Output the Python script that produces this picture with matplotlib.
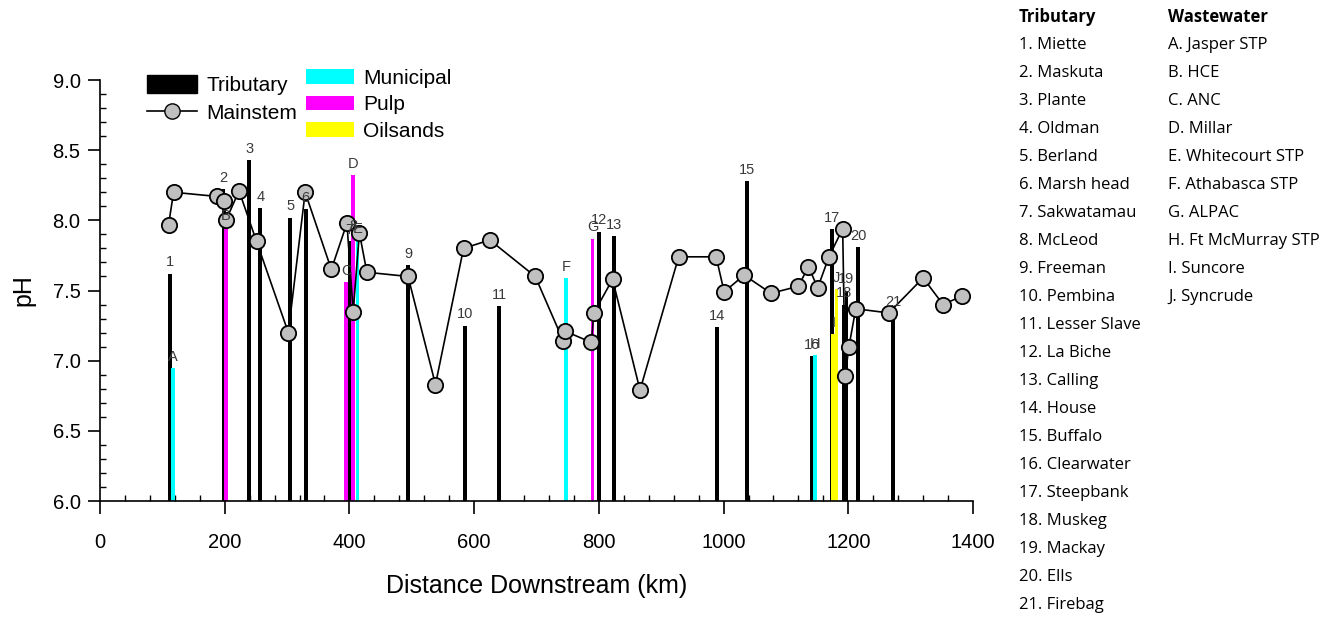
import matplotlib
matplotlib.use("Agg")
import matplotlib.pyplot as plt
from matplotlib.patches import Patch
from matplotlib.lines import Line2D
from matplotlib.ticker import MultipleLocator

plt.rcParams['font.family'] = ['Liberation Sans', 'DejaVu Sans']

# mainstem pH along the river (km downstream, pH)
main_km = [110, 118, 188, 199, 202, 223, 251, 302, 329, 371, 396, 406, 416, 428,
           494, 538, 583, 625, 698, 743, 746, 788, 792, 822, 866, 928, 988, 1001,
           1033, 1076, 1120, 1136, 1151, 1169, 1191, 1195, 1201, 1212, 1265, 1320,
           1352, 1382]
main_ph = [7.97, 8.20, 8.17, 8.14, 8.00, 8.21, 7.85, 7.20, 8.20, 7.65, 7.98, 7.35,
           7.91, 7.63, 7.60, 6.83, 7.80, 7.86, 7.60, 7.14, 7.21, 7.13, 7.34, 7.58,
           6.79, 7.74, 7.74, 7.49, 7.61, 7.48, 7.53, 7.67, 7.52, 7.74, 7.94, 6.89,
           7.10, 7.37, 7.34, 7.59, 7.40, 7.46]

# tributaries
trib_names = ['Miette', 'Maskuta', 'Plante', 'Oldman', 'Berland', 'Marsh head',
              'Sakwatamau', 'McLeod', 'Freeman', 'Pembina', 'Lesser Slave',
              'La Biche', 'Calling', 'House', 'Buffalo', 'Clearwater', 'Steepbank',
              'Muskeg', 'Mackay', 'Ells', 'Firebag']
trib_km = [112, 198, 239, 257, 305, 330, 400, 406, 494, 585, 640, 800, 824, 990,
           1037, 1142, 1174, 1193, 1197, 1216, 1272]
trib_ph = [7.62, 8.22, 8.43, 8.09, 8.02, 8.08, 7.85, 7.88, 7.68, 7.25, 7.39, 7.92,
           7.89, 7.24, 8.28, 7.03, 7.94, 7.40, 7.50, 7.81, 7.34]

# wastewater discharges
ww_names = ['Jasper STP', 'HCE', 'ANC', 'Millar', 'Whitecourt STP', 'Athabasca STP',
            'ALPAC', 'Ft McMurray STP', 'Suncore', 'Syncrude']
ww_letters = ['A', 'B', 'C', 'D', 'E', 'F', 'G', 'H', 'I', 'J']
ww_km = [117, 202, 395, 406, 413, 747, 790, 1147, 1176, 1181]
ww_ph = [6.95, 7.95, 7.56, 8.32, 7.86, 7.59, 7.87, 7.04, 7.19, 7.51]
ww_type = ['Municipal', 'Pulp', 'Pulp', 'Pulp', 'Municipal', 'Municipal', 'Pulp',
           'Municipal', 'Oilsands', 'Oilsands']

type_colors = {'Municipal': '#00ffff', 'Pulp': '#ff00ff', 'Oilsands': '#ffff00'}
label_color = '#3a3a3a'

fig = plt.figure(figsize=(13.43, 6.17), dpi=100)
ax = fig.add_axes([100 / 1343, 1 - 501 / 617, 873 / 1343, 421 / 617])

base = 6.0
ax.bar(trib_km, [p - base for p in trib_ph], bottom=base, width=6, color='black', zorder=2)
ax.bar(ww_km, [p - base for p in ww_ph], bottom=base, width=6,
       color=[type_colors[t] for t in ww_type], zorder=2)

for i, (k, p) in enumerate(zip(trib_km, trib_ph)):
    ax.annotate(str(i + 1), (k, p), xytext=(0, 3), textcoords='offset points',
                ha='center', va='bottom', fontsize=10.5, color=label_color, zorder=5)
for l, k, p in zip(ww_letters, ww_km, ww_ph):
    ax.annotate(l, (k, p), xytext=(0, 3), textcoords='offset points',
                ha='center', va='bottom', fontsize=10.5, color=label_color, zorder=5)

ax.plot(main_km, main_ph, color='black', lw=1.2, marker='o', ms=11,
        mfc='#c0c0c0', mec='black', mew=1.3, zorder=4)

ax.set_xlim(0, 1400)
ax.set_ylim(6.0, 9.0)
ax.xaxis.set_major_locator(MultipleLocator(200))
ax.xaxis.set_minor_locator(MultipleLocator(40))
ax.yaxis.set_major_locator(MultipleLocator(0.5))
ax.yaxis.set_minor_locator(MultipleLocator(0.1))
ax.yaxis.set_major_formatter(plt.FormatStrFormatter('%.1f'))
ax.tick_params(which='major', direction='out', length=9, width=1.2, labelsize=14.5)
ax.tick_params(axis='x', which='major', pad=14)
ax.tick_params(axis='y', which='major', pad=5)
ax.tick_params(which='minor', direction='in', length=4, width=1)
ax.spines['top'].set_visible(False)
ax.spines['right'].set_visible(False)
ax.spines['left'].set_linewidth(1.2)
ax.spines['bottom'].set_linewidth(1.2)
ax.set_xlabel('Distance Downstream (km)', fontsize=18, labelpad=16)
ax.set_ylabel('pH', fontsize=18, labelpad=12)

h1 = [Patch(facecolor='black', edgecolor='black'),
      Line2D([], [], color='black', lw=1.2, marker='o', ms=11, mfc='#c0c0c0', mec='black')]
leg1 = fig.legend(h1, ['Tributary', 'Mainstem'], loc='upper left',
                  bbox_to_anchor=(147 / 1343, 1 - 75 / 617), frameon=False,
                  fontsize=15, handlelength=2.4, handleheight=0.95,
                  labelspacing=0.35, handletextpad=0.45, borderpad=0, borderaxespad=0)
h2 = [Patch(facecolor=type_colors[t]) for t in ['Municipal', 'Pulp', 'Oilsands']]
leg2 = fig.legend(h2, ['Municipal', 'Pulp', 'Oilsands'], loc='upper left',
                  bbox_to_anchor=(306 / 1343, 1 - 69 / 617), frameon=False,
                  fontsize=15, handlelength=2.3, handleheight=0.7,
                  labelspacing=0.35, handletextpad=0.45, borderpad=0, borderaxespad=0)

# name key on the right
key_font = ['Open Sans', 'DejaVu Sans']
y0 = 1 - 17 / 617
dy = 28 / 617
fig.text(1019 / 1343, y0, 'Tributary', fontsize=12, fontweight='bold',
         family=key_font, va='center')
fig.text(1168 / 1343, y0, 'Wastewater', fontsize=12, fontweight='bold',
         family=key_font, va='center')
for i, n in enumerate(trib_names):
    fig.text(1019 / 1343, y0 - (i + 1) * dy, f'{i + 1}. {n}', fontsize=12,
             family=key_font, va='center')
for i, (l, n) in enumerate(zip(ww_letters, ww_names)):
    fig.text(1168 / 1343, y0 - (i + 1) * dy, f'{l}. {n}', fontsize=12,
             family=key_font, va='center')

fig.savefig('out.png', dpi=100)
